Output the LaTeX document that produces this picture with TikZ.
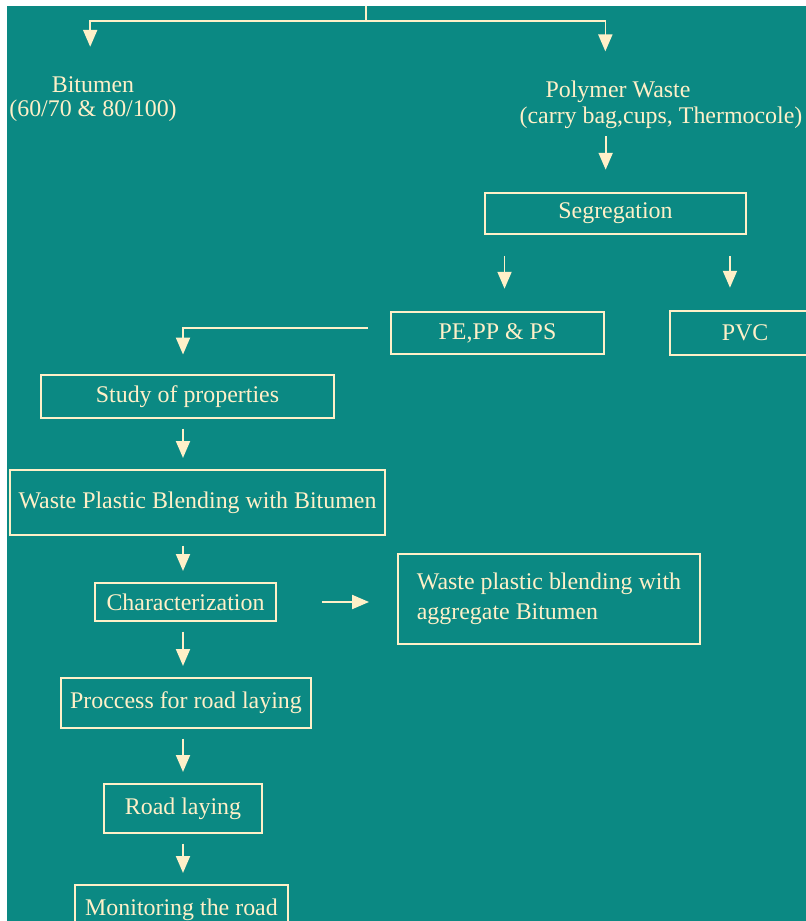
\documentclass[tikz,border=0pt]{standalone}
\usepackage{xcolor}
\usepackage{fontspec}
\setmainfont{Liberation Serif}
\usepackage{tikz}
\usetikzlibrary{arrows.meta, positioning}

\definecolor{bgteal}{RGB}{11,137,131}
\definecolor{cream}{RGB}{255,240,200}

\begin{document}
\begin{tikzpicture}[
    x=0.025cm, y=-0.025cm,
    every node/.style={text=cream, font=\fontsize{17}{17}\selectfont},
    box/.style={rectangle, draw=cream, line width=1.2pt, inner xsep=2pt},
    arrow/.style={-{Triangle[length=12pt, width=10pt]}, draw=cream, line width=1.2pt, shorten <=7pt, shorten >=8pt},
    line/.style={draw=cream, line width=1.2pt}
]

\useasboundingbox (0,0) rectangle (806,921);
\fill[white] (0,0) rectangle (806,921);
\fill[bgteal] (7,6) rectangle (806,921);

% Nodes
\node (bit) [align=center, inner sep=0pt] at (93,99) {Bitumen\\(60/70 \& 80/100)};
\node (poly) [inner sep=0pt] at (618,92) {Polymer Waste};
\node (polyb) [inner sep=0pt] at (661,118) {(carry bag,cups, Thermocole)};

\node (seg) [box, minimum width=6.525cm, minimum height=1.025cm] at (615.5,213.5) {Segregation};
\node (pe) [box, minimum width=5.325cm, minimum height=1.05cm] at (497.5,333) {PE,PP \& PS};
\node (pvc) [box, minimum width=3.75cm, minimum height=1.1cm] at (745,333) {PVC};

\node (study) [box, minimum width=7.325cm, minimum height=1.075cm] at (187.5,396.5) {Study of properties};
\node (blend) [box, minimum width=9.375cm, minimum height=1.625cm] at (197.5,502.5) {Waste Plastic Blending with Bitumen};
\node (char) [box, minimum width=4.525cm, minimum height=0.95cm] at (185.5,602) {Characterization};
\node (agg) [box, align=left, minimum width=7.55cm, minimum height=2.25cm] at (549,599) {Waste plastic blending with\\[4pt]aggregate Bitumen};
\node (proc) [box, minimum width=6.25cm, minimum height=1.25cm] at (186,703) {Proccess for road laying};
\node (road) [box, minimum width=3.95cm, minimum height=1.225cm] at (183,808.5) {Road laying};
\node (mon) [box, minimum width=5.325cm, minimum height=1.25cm] at (181.5,910) {Monitoring the road};

\coordinate (top) at (366,6);
\coordinate (split) at (366,21);

\draw[line] (top) -- (split);
\draw[arrow, shorten <=0pt, shorten >=21pt] (split) -| ([xshift=-2pt]bit.north);
\draw[arrow, shorten <=0pt, shorten >=21pt] (split) -| ([xshift=-9pt]poly.north);

\draw[arrow, shorten <=5pt, shorten >=16pt] ([xshift=-7pt]seg.north |- polyb.south) -- ([xshift=-7pt]seg.north);
\draw[arrow, shorten <=15pt, shorten >=16pt] ([xshift=5pt]pe.north |- seg.south) -- ([xshift=5pt]pe.north);
\draw[arrow, shorten <=15pt, shorten >=16pt] ([xshift=-10.7pt]pvc.north |- seg.south) -- ([xshift=-10.7pt]pvc.north);

\draw[arrow, shorten <=16pt, shorten >=14pt] ([yshift=3.5pt]pe.west) -| (study.north -| road.north);
\draw[arrow] (study.south -| road.north) -- (blend.north -| road.north);
\draw[arrow] (blend.south -| road.north) -- (char.north -| road.north);
\draw[arrow, shorten <=32pt, shorten >=20pt] (char.east) -- (char.east -| agg.west);
\draw[arrow] (char.south -| road.north) -- (proc.north -| road.north);
\draw[arrow] (proc.south -| road.north) -- (road.north);
\draw[arrow] (road.south) -- (mon.north -| road.north);
\end{tikzpicture}
\end{document}
